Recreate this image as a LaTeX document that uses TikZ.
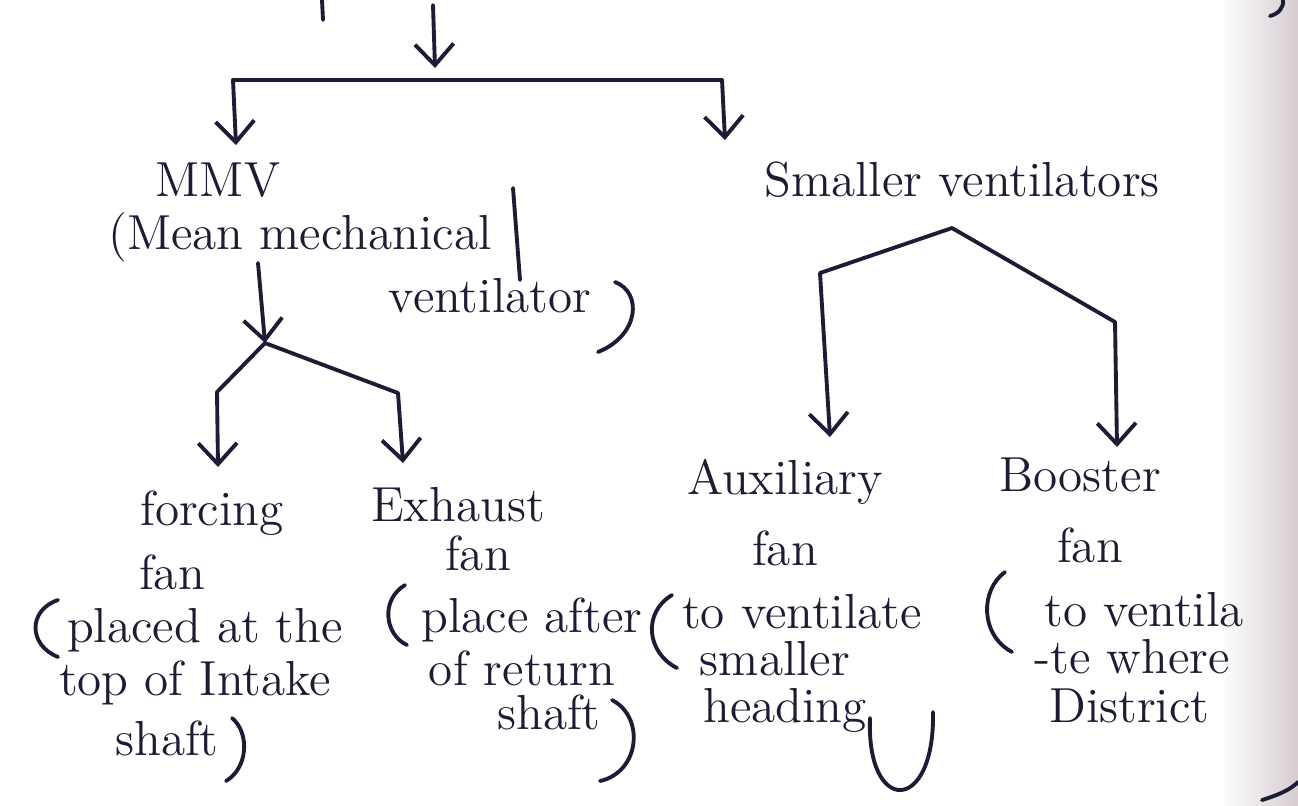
\documentclass[tikz,border=0pt]{standalone}
\usepackage{tikz}
\usetikzlibrary{arrows.meta}
\definecolor{ink}{RGB}{28,28,52}
\definecolor{edge}{RGB}{214,204,210}

\begin{document}
\begin{tikzpicture}[x=0.01cm,y=-0.01cm,
        hand/.style={text=ink,font=\fontsize{14}{16}\selectfont,inner sep=1pt},
        pen/.style={draw=ink,line width=1.1pt,line cap=round,line join=round},
        arr/.style={pen,-{Straight Barb[length=6pt,width=11pt]}}]
        \useasboundingbox (0,0) rectangle (1298,805);
        \clip (0,0) rectangle (1298,805);
        \shade[left color=white,right color=edge] (1220,0) rectangle (1298,805);

        \node[hand] (mmv) at (218,180) {MMV};
        \node[hand] (mean) at (300,237) {(Mean mechanical};
        \node[hand] (vent) at (490,296) {ventilator};
        \node[hand] (small) at (962,180) {Smaller ventilators};

        \node[hand] (forcing) at (212,513) {forcing};
        \node[hand] (ffan) at (172,572) {fan};
        \node[hand] (fplaced) at (205,630) {placed at the};
        \node[hand] (ftop) at (195,683) {top of Intake};
        \node[hand] (fshaft) at (167,738) {shaft};

        \node[hand] (exhaust) at (458,505) {Exhaust};
        \node[hand] (efan) at (478,553) {fan};
        \node[hand] (eplace) at (532,620) {place after};
        \node[hand] (ereturn) at (522,668) {of return};
        \node[hand] (eshaft) at (549,712) {shaft};

        \node[hand] (aux) at (785,482) {Auxiliary};
        \node[hand] (afan) at (785,548) {fan};
        \node[hand] (avent) at (802,612) {to ventilate};
        \node[hand] (asmall) at (775,659) {smaller};
        \node[hand] (ahead) at (785,710) {heading};

        \node[hand] (booster) at (1080,475) {Booster};
        \node[hand] (bfan) at (1090,545) {fan};
        \node[hand,anchor=west] (bvent) at (1040,610) {to ventila};
        \node[hand,anchor=west] (bwhere) at (1030,657) {-te where};
        \node[hand,anchor=west] (bdist) at (1045,706) {District};

        \coordinate (top0) at (433,5);
        \coordinate (top1) at (435,68);
        \coordinate (barl) at (233,80);
        \coordinate (barr) at (722,80);
        \coordinate (mmvin) at (236,145);
        \coordinate (smallin) at (725,140);
        \draw[pen] (322,0) -- (323,20);
        \draw[arr] (top0) -- (top1);
        \draw[pen] (barl) -- (barr);
        \draw[arr] (barl) -- (mmvin);
        \draw[arr] (barr) -- (smallin);

        \coordinate (mmvtop) at (258,263);
        \coordinate (mmvj) at (265,343);
        \coordinate (fin) at (218,467);
        \coordinate (ein) at (403,463);
        \draw[arr] (mmvtop) -- (mmvj);
        \draw[arr] (mmvj) -- (217,392) -- (fin);
        \draw[arr] (mmvj) -- (398,393) -- (ein);

        \coordinate (smj) at (952,228);
        \coordinate (ain) at (830,437);
        \coordinate (bin) at (1117,447);
        \draw[arr] (smj) -- (820,273) -- (ain);
        \draw[arr] (smj) -- (1115,322) -- (bin);

        \draw[pen] (513,188) -- (520,280);
        \draw[pen] (615,282) .. controls (642,292) and (640,335) .. (598,352);
        \draw[pen] (58,600) .. controls (28,610) and (28,645) .. (58,657);
        \draw[pen] (232,718) .. controls (250,733) and (248,768) .. (226,781);
        \draw[pen] (405,585) .. controls (380,600) and (385,635) .. (407,645);
        \draw[pen] (612,700) .. controls (645,717) and (640,772) .. (600,781);
        \draw[pen] (672,595) .. controls (642,613) and (647,653) .. (677,668);
        \draw[pen] (870,718) .. controls (866,815) and (935,815) .. (933,712);
        \draw[pen] (1005,572) .. controls (980,590) and (980,635) .. (1012,652);
        \draw[pen] (1262,800) .. controls (1278,795) and (1290,790) .. (1298,782);
        \draw[pen] (1283,0) .. controls (1284,8) and (1278,14) .. (1270,16);
\end{tikzpicture}
\end{document}
